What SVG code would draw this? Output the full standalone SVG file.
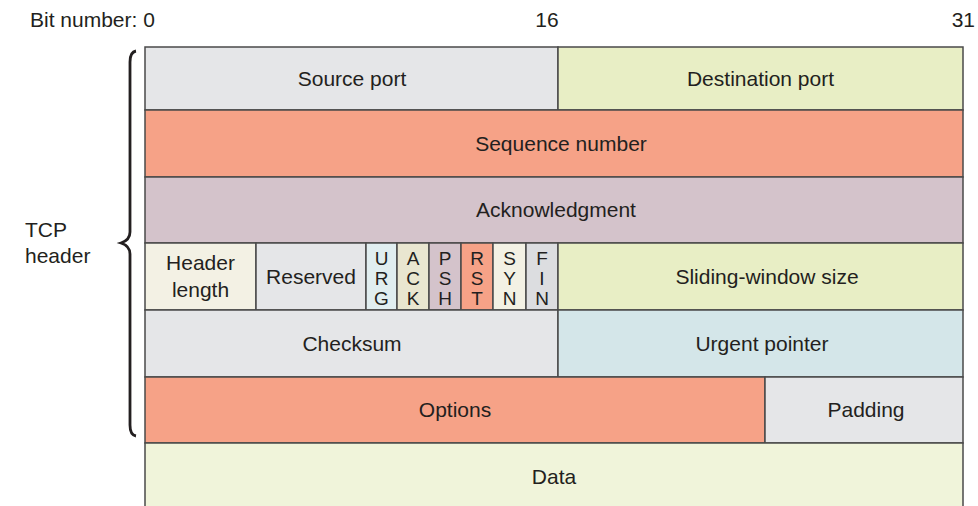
<svg xmlns="http://www.w3.org/2000/svg" width="978" height="506" viewBox="0 0 978 506">
<style>
text{font-family:"Liberation Sans",Arial,sans-serif;font-size:21px;fill:#231f20}
.c{text-anchor:middle}
.f{font-size:19px}
rect{stroke:#4a4a4a;stroke-width:1.5}
.grey{fill:#e5e6e8}
.ygreen{fill:#e8eec5}
.salmon{fill:#f6a287}
.mauve{fill:#d4c3cb}
.cream{fill:#f3f1e4}
.lblue{fill:#d4e6e9}
.data{fill:#f0f4da}
</style>
<rect width="978" height="506" fill="#ffffff" style="stroke:none"/>
<g id="bit-labels">
<text x="30" y="27">Bit number: 0</text>
<text x="547" y="27" class="c">16</text>
<text x="975" y="27" text-anchor="end">31</text>
</g>
<g id="tcp-header-label">
<text x="25" y="237">TCP</text>
<text x="25" y="263">header</text>
</g>
<g id="brace">
<path d="M136,51 Q130,52 130,62 L130,232 Q130,240 121,243 Q130,246 130,254 L130,425 Q130,435 136,436" fill="none" stroke="#231f20" stroke-width="2.8"/>
</g>
<g id="source-port"><rect x="145" y="47" width="413" height="63" class="grey"/><text x="352" y="86" class="c">Source port</text></g>
<g id="destination-port"><rect x="558" y="47" width="405" height="63" class="ygreen"/><text x="760.5" y="86" class="c">Destination port</text></g>
<g id="sequence-number"><rect x="145" y="110" width="818" height="67" class="salmon"/><text x="561" y="151" class="c">Sequence number</text></g>
<g id="acknowledgment"><rect x="145" y="177" width="818" height="66" class="mauve"/><text x="556" y="217" class="c">Acknowledgment</text></g>
<g id="header-length"><rect x="145" y="243" width="111" height="67" class="cream"/><text x="200.5" y="270" class="c">Header</text><text x="200.5" y="297" class="c">length</text></g>
<g id="reserved"><rect x="256" y="243" width="110" height="67" class="grey"/><text x="311" y="284" class="c">Reserved</text></g>
<g id="flag-urg"><rect x="366" y="243" width="31" height="67" fill="#e1eef0"/><text x="381.5" y="265" class="c f"><tspan x="381.5" y="265">U</tspan><tspan x="381.5" y="285">R</tspan><tspan x="381.5" y="305">G</tspan></text></g>
<g id="flag-ack"><rect x="397" y="243" width="32" height="67" fill="#e9e6d0"/><text x="413" y="265" class="c f"><tspan x="413" y="265">A</tspan><tspan x="413" y="285">C</tspan><tspan x="413" y="305">K</tspan></text></g>
<g id="flag-psh"><rect x="429" y="243" width="32" height="67" class="mauve"/><text x="445" y="265" class="c f"><tspan x="445" y="265">P</tspan><tspan x="445" y="285">S</tspan><tspan x="445" y="305">H</tspan></text></g>
<g id="flag-rst"><rect x="461" y="243" width="32" height="67" class="salmon"/><text x="477" y="265" class="c f"><tspan x="477" y="265">R</tspan><tspan x="477" y="285">S</tspan><tspan x="477" y="305">T</tspan></text></g>
<g id="flag-syn"><rect x="493" y="243" width="33" height="67" class="cream"/><text x="509.5" y="265" class="c f"><tspan x="509.5" y="265">S</tspan><tspan x="509.5" y="285">Y</tspan><tspan x="509.5" y="305">N</tspan></text></g>
<g id="flag-fin"><rect x="526" y="243" width="32" height="67" fill="#dcdde0"/><text x="542" y="265" class="c f"><tspan x="542" y="265">F</tspan><tspan x="542" y="285">I</tspan><tspan x="542" y="305">N</tspan></text></g>
<g id="sliding-window-size"><rect x="558" y="243" width="405" height="67" class="ygreen"/><text x="767" y="284" class="c">Sliding-window size</text></g>
<g id="checksum"><rect x="145" y="310" width="413" height="67" class="grey"/><text x="352" y="351" class="c">Checksum</text></g>
<g id="urgent-pointer"><rect x="558" y="310" width="405" height="67" class="lblue"/><text x="762" y="351" class="c">Urgent pointer</text></g>
<g id="options"><rect x="145" y="377" width="620" height="66" class="salmon"/><text x="455" y="417" class="c">Options</text></g>
<g id="padding"><rect x="765" y="377" width="198" height="66" class="grey"/><text x="866" y="417" class="c">Padding</text></g>
<g id="data"><rect x="145" y="443" width="818" height="70" class="data"/><text x="554" y="484" class="c">Data</text></g>
</svg>
